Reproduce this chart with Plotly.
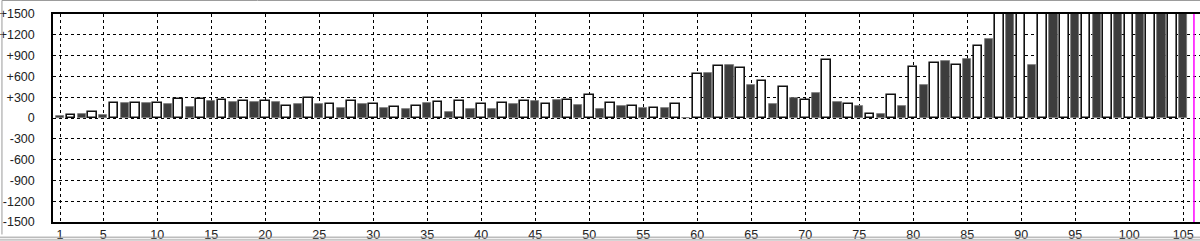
import plotly.graph_objects as go

# Positions 1..105; even positions drawn as white bars, odd positions as dark bars
positions = list(range(1, 106))
values = [
    35, 50, 55, 80, 40, 215, 215, 215, 215, 215,          # 1-10
    195, 275, 160, 275, 245, 260, 225, 240, 225, 245,     # 11-20
    225, 180, 205, 295, 205, 205, 145, 245, 205, 205,     # 21-30
    145, 160, 125, 180, 210, 225, 85, 245, 125, 205,      # 31-40
    125, 220, 205, 245, 250, 205, 265, 265, 185, 330,     # 41-50
    130, 220, 180, 180, 145, 145, 145, 200, 0, 630,       # 51-60
    650, 745, 770, 720, 480, 530, 205, 450, 290, 265,     # 61-70
    360, 840, 225, 200, 180, 55, 60, 335, 180, 730,       # 71-80
    475, 790, 825, 765, 850, 1045, 1140, 1900, 1900, 1900,  # 81-90
    760, 1900, 1900, 1900, 1900, 1900, 1900, 1900, 1900, 1900,  # 91-100
    1900, 1900, 1900, 1900, 1900,                          # 101-105
]
white_x = [p for p in positions if p % 2 == 0]
white_vals = [values[p - 1] for p in white_x]
dark_x = [p for p in positions if p % 2 == 1]
dark_vals = [values[p - 1] for p in dark_x]

x_ticks = [1] + list(range(5, 106, 5))
y_ticks = list(range(-1500, 1501, 300))
y_ticktext = [("+%d" % v if v > 0 else str(v)) for v in y_ticks]
marker_x = 106

fig = go.Figure()
fig.add_trace(go.Bar(x=white_x, y=white_vals, width=0.8,
                     marker=dict(color="white", line=dict(color="#111", width=1.6)),
                     showlegend=False))
fig.add_trace(go.Bar(x=dark_x, y=dark_vals, width=0.76,
                     marker=dict(color="#3d3d3d", line=dict(color="#777", width=0.8)),
                     showlegend=False))

fig.add_shape(type="line", xref="x", yref="paper", x0=marker_x, x1=marker_x, y0=0, y1=1,
              line=dict(color="#ff00ff", width=1.5))

# outer gray frame of the picture
frame = dict(color="#9a9a9a", width=1)
fig.add_shape(type="line", xref="paper", yref="paper", x0=-0.0445, x1=1.0, y0=1.065, y1=1.065, line=frame)
fig.add_shape(type="line", xref="paper", yref="paper", x0=-0.0445, x1=-0.0445, y0=1.065, y1=-0.06, line=frame)
fig.add_shape(type="line", xref="paper", yref="paper", x0=-0.05, x1=1.0, y0=-0.073, y1=-0.073, line=frame)
fig.add_shape(type="line", xref="paper", yref="paper", x0=-0.05, x1=1.0, y0=-0.085, y1=-0.085, line=dict(color="#c8c8c8", width=2))

fig.update_layout(
    width=1200, height=241,
    margin=dict(l=53, r=0, t=14, b=19, autoexpand=False),
    paper_bgcolor="white", plot_bgcolor="white",
    bargap=0, barmode="overlay",
    font=dict(family="Liberation Sans", size=12, color="#222"),
)
fig.update_xaxes(
    range=[0.35, 106.56], tickmode="array", tickvals=x_ticks,
    showgrid=True, gridcolor="#000", griddash="dot", gridwidth=1,
    showline=True, linecolor="#000", linewidth=1.5, mirror=True,
    ticks="", zeroline=False, ticklabelstandoff=0, automargin=False,
    tickfont=dict(size=12.5),
)
fig.update_yaxes(
    range=[-1500, 1500], tickmode="array", tickvals=y_ticks, ticktext=y_ticktext,
    showgrid=True, gridcolor="#000", griddash="dot", gridwidth=1,
    showline=True, linecolor="#000", linewidth=1.5, mirror=False,
    zeroline=False, ticks="", ticklabelstandoff=14, automargin=False,
    tickfont=dict(size=12.5),
)

fig.write_html("out.html")
